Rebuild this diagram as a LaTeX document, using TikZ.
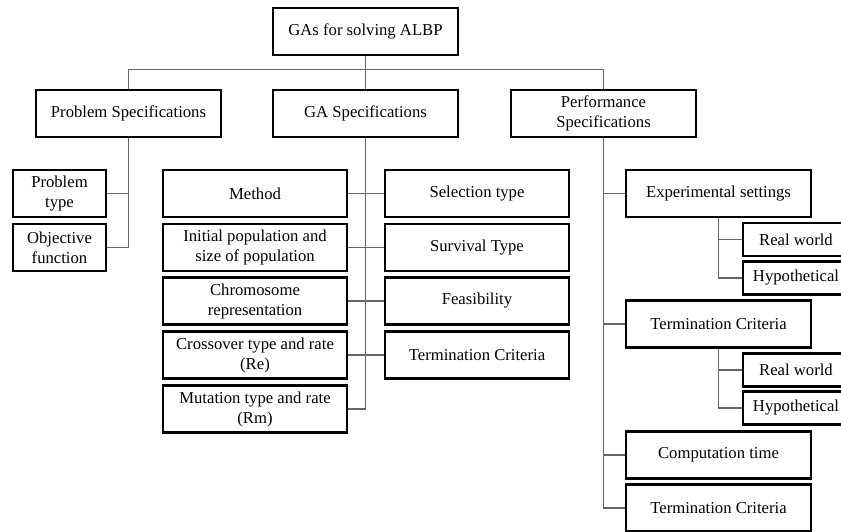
\documentclass[tikz,border=0pt]{standalone}
\usepackage{fontspec}
\setmainfont{Liberation Serif}
\usetikzlibrary{positioning,calc}

\begin{document}
\begin{tikzpicture}[
	%	style def
    x=0.75pt, y=-0.75pt,
    box/.style={draw, line width=2pt, align=center, inner sep=1pt,
        minimum height=35.25pt, font=\fontsize{12.5}{15}\selectfont},
    wide box/.style={box, minimum width=138.75pt},
    col box/.style={box, minimum width=138pt},
    left box/.style={box, minimum width=69.75pt},
    sub box/.style={box, minimum width=79.5pt, minimum height=24.75pt},
    link/.style={draw=black!60, line width=0.8pt},
    every node/.style={color=black}
    ]
	\useasboundingbox (0,0) rectangle (841,531);

	% top level
	\node[wide box] (root) at (365.5,31.5) {GAs for solving ALBP};
	\node[wide box] (probspec) at (128.5,113.5) {Problem Specifications};
	\node[wide box] (gaspec) at (365.5,113.5) {GA Specifications};
	\node[wide box] (perfspec) at (603.5,113.5) {Performance\\Specifications};

	% problem specifications
	\node[left box] (ptype) at (59.5,193.5) {Problem\\type};
	\node[left box] (objfun) at (59.5,247.5) {Objective\\function};

	% GA specifications, left column
	\node[col box] (meth) at (255,193.5) {Method};
	\node[col box] (initpop) at (255,247.5) {Initial population and\\size of population};
	\node[col box] (chrom) at (255,301) {Chromosome\\representation};
	\node[col box] (cross) at (255,355) {Crossover type and rate\\(Re)};
	\node[col box] (mut) at (255,409) {Mutation type and rate\\(Rm)};

	% GA specifications, right column
	\node[col box] (sel) at (477,193.5) {Selection type};
	\node[col box] (surv) at (477,247.5) {Survival Type};
	\node[col box] (feas) at (477,301) {Feasibility};
	\node[col box] (gaterm) at (477,355) {Termination Criteria};

	% performance specifications
	\node[wide box] (expset) at (718.5,193.5) {Experimental settings};
	\node[sub box] (real1) at (796,239.5) {Real world};
	\node[sub box] (hypo1) at (796,278) {Hypothetical};
	\node[wide box] (termcrit) at (718.5,324) {Termination Criteria};
	\node[sub box] (real2) at (796,370) {Real world};
	\node[sub box] (hypo2) at (796,408) {Hypothetical};
	\node[wide box] (comptime) at (718.5,455) {Computation time};
	\node[wide box] (perfterm) at (718.5,508) {Termination Criteria};

	% connection of nodes
	\draw[link] (root) -- (gaspec);
	\draw[link] (probspec.north) -- ++(0,-19) -| (perfspec.north);
	\draw[link] (probspec.south) |- (objfun.east);
	\draw[link] (ptype.east) -| (probspec.south);
	\draw[link] (gaspec.south) |- (mut.east);
	\draw[link] (meth) -- (sel);
	\draw[link] (initpop) -- (surv);
	\draw[link] (chrom) -- (feas);
	\draw[link] (cross) -- (gaterm);
	\draw[link] (perfspec.south) |- (perfterm.west);
	\draw[link] (expset.west) -| (perfspec.south);
	\draw[link] (termcrit.west) -| (perfspec.south);
	\draw[link] (comptime.west) -| (perfspec.south);
	\draw[link] (expset.south) |- (hypo1.west);
	\draw[link] (real1.west) -| (expset.south);
	\draw[link] (termcrit.south) |- (hypo2.west);
	\draw[link] (real2.west) -| (termcrit.south);
\end{tikzpicture}
\end{document}
